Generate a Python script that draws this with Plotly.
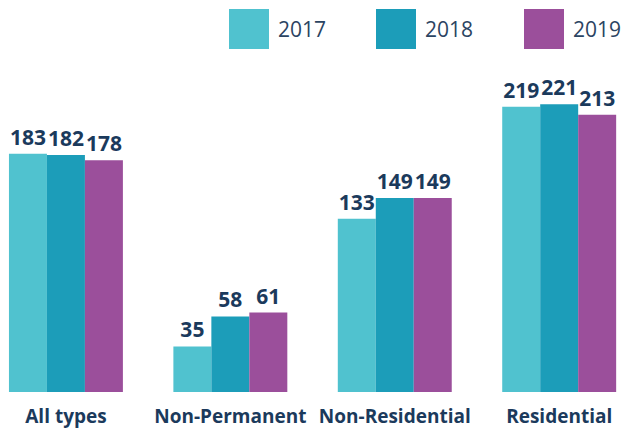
import plotly.graph_objects as go

categories = ["All types", "Non-Permanent", "Non-Residential", "Residential"]
years = ["2017", "2018", "2019"]
values_2017 = [183, 35, 133, 219]
values_2018 = [182, 58, 149, 221]
values_2019 = [178, 61, 149, 213]

colors = {"2017": "#50C2CF", "2018": "#1C9DB9", "2019": "#9B4F9B"}
text_color = "#1B3A5C"

fig = go.Figure()
for year, vals in zip(years, [values_2017, values_2018, values_2019]):
    fig.add_trace(go.Bar(
        name=year,
        x=categories,
        y=vals,
        marker=dict(color=colors[year], line=dict(width=0)),
        text=vals,
        textposition="outside",
        constraintext="none",
        cliponaxis=False,
        textfont=dict(family="Open Sans", size=21, color=text_color, weight="bold"),
    ))

# legend drawn by hand: big square swatches
legend_x = [229, 376, 524]
for year, lx in zip(years, legend_x):
    fig.add_shape(type="rect", xref="paper", yref="paper",
                  x0=lx / 622, x1=(lx + 40) / 622,
                  y0=1 + (60 - 49) / 332, y1=1 + (60 - 9) / 332,
                  fillcolor=colors[year], line=dict(width=0))
    fig.add_annotation(x=(lx + 47) / 622, y=1 + (60 - 29) / 332,
                       xref="paper", yref="paper", text=year, showarrow=False,
                       xanchor="left", yanchor="middle",
                       font=dict(family="Open Sans", size=21, color="#2B4462"))

fig.update_layout(
    width=622, height=429,
    margin=dict(l=0, r=0, t=60, b=37),
    barmode="group",
    bargap=0.307,
    bargroupgap=0,
    showlegend=False,
    plot_bgcolor="white",
    paper_bgcolor="white",
    font=dict(family="Open Sans", color=text_color),
)
fig.update_xaxes(range=[-0.401, 3.382], showline=False, showgrid=False,
                 ticks="", ticklabelstandoff=11,
                 tickfont=dict(size=19, color=text_color, weight="bold"))
fig.update_yaxes(range=[0, 255], visible=False)

fig.write_html("out.html", config={"displayModeBar": False},
               post_script="document.body.style.margin='0';")
